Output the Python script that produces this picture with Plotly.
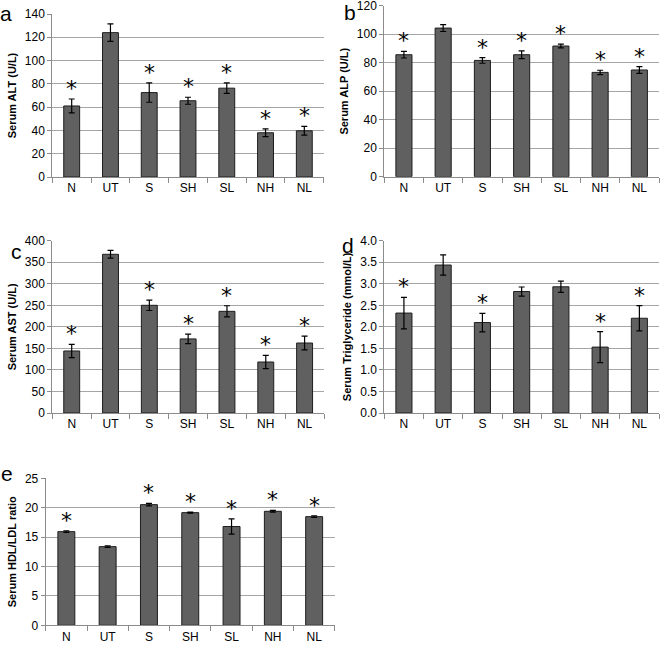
import plotly.graph_objects as go

W, H = 661, 647

groups = ["N", "UT", "S", "SH", "SL", "NH", "NL"]

alt_mean = [61, 124, 72.5, 65.5, 76.3, 38, 39.7]
alt_err = [6, 7.5, 8.3, 3, 4.5, 3.4, 3.7]
alt_star = ["*", "", "*", "*", "*", "*", "*"]

alp_mean = [85.6, 104.3, 81.6, 85.6, 91.7, 73.2, 74.9]
alp_err = [2.3, 2.4, 2, 2.7, 1.3, 1.5, 2.4]
alp_star = ["*", "", "*", "*", "*", "*", "*"]

ast_mean = [144, 368.4, 250, 172, 236, 118.4, 162.5]
ast_err = [15.5, 9, 12, 11, 13, 15.5, 16]
ast_star = ["*", "", "*", "*", "*", "*", "*"]

tg_mean = [2.32, 3.435, 2.10, 2.82, 2.93, 1.53, 2.20]
tg_err = [0.365, 0.235, 0.215, 0.105, 0.13, 0.36, 0.295]
tg_star = ["*", "", "*", "", "", "*", "*"]

hdl_mean = [15.93, 13.38, 20.52, 19.16, 16.8, 19.39, 18.48]
hdl_err = [0.15, 0.15, 0.2, 0.1, 1.3, 0.15, 0.15]
hdl_star = ["*", "", "*", "*", "*", "*", "*"]

font = "Liberation Sans"

# panel boxes in pixels: x0, x1, ytop, ybottom
panels = [
    dict(mean=alt_mean, err=alt_err, star=alt_star, title="Serum ALT (U/L)",
         rng=[0, 140], dt=20, fmt="", box=(52.3, 323.7, 14, 177),
         letter="a", lpos=(6, 13)),
    dict(mean=alp_mean, err=alp_err, star=alp_star, title="Serum ALP (U/L)",
         rng=[0, 120], dt=20, fmt="", box=(384.3, 659, 5.7, 176.7),
         letter="b", lpos=(350, 12)),
    dict(mean=ast_mean, err=ast_err, star=ast_star, title="Serum AST (U/L)",
         rng=[0, 400], dt=50, fmt="", box=(52.3, 324, 240.7, 413),
         letter="c", lpos=(16, 251)),
    dict(mean=tg_mean, err=tg_err, star=tg_star, title="Serum Triglyceride (mmol/L)",
         rng=[0, 4], dt=0.5, fmt=".1f", box=(384.3, 659, 240.7, 413),
         letter="d", lpos=(348, 245)),
    dict(mean=hdl_mean, err=hdl_err, star=hdl_star, title="Serum HDL/LDL ratio",
         rng=[0, 25], dt=5, fmt="", box=(45.7, 334.8, 478.3, 625.3),
         letter="e", lpos=(7, 473)),
]

fig = go.Figure()
annotations = []

for i, p in enumerate(panels, start=1):
    xa = "x" if i == 1 else f"x{i}"
    ya = "y" if i == 1 else f"y{i}"
    fig.add_trace(go.Bar(
        x=groups, y=p["mean"], xaxis=xa, yaxis=ya, width=0.41,
        marker=dict(color="#606060", line=dict(color="#1e1e1e", width=1)),
        error_y=dict(type="data", array=p["err"], color="black",
                     thickness=1.2, width=3),
        showlegend=False, hoverinfo="y",
    ))
    # significance stars just above the error bars
    for g, m, e, s in zip(groups, p["mean"], p["err"], p["star"]):
        if s:
            annotations.append(dict(
                text=s, x=g, y=m + e, xref=xa, yref=ya, showarrow=False,
                xanchor="center", yanchor="bottom", yshift=-4,
                font=dict(family="DejaVu Sans", size=22, color="black"),
            ))
    x0, x1, yt, yb = p["box"]
    key = "" if i == 1 else str(i)
    fig.update_layout({
        f"xaxis{key}": dict(
            domain=[x0 / W, x1 / W], anchor=ya, type="category",
            automargin=False, ticklabeloverflow="allow",
            showline=True, linecolor="#8c8c8c", linewidth=1,
            ticks="outside", tickson="boundaries", ticklen=5,
            tickcolor="#8c8c8c", showgrid=False,
            tickfont=dict(family=font, size=12, color="black"),
        ),
        f"yaxis{key}": dict(
            domain=[1 - yb / H, 1 - yt / H], anchor=xa, range=p["rng"],
            dtick=p["dt"], tickformat=p["fmt"],
            automargin=False, ticklabeloverflow="allow",
            showline=True, linecolor="#8c8c8c", linewidth=1,
            ticks="outside", ticklen=4, tickcolor="#8c8c8c",
            showgrid=True, gridcolor="#a6a6a6", gridwidth=1, zeroline=False,
            tickfont=dict(family=font, size=12, color="black"),
            title=dict(text="<b>" + p["title"] + "</b>", standoff=6,
                       font=dict(family=font, size=11, color="black")),
        ),
    })
    lx, ly = p["lpos"]
    annotations.append(dict(
        text=p["letter"], x=lx / W, y=1 - ly / H, xref="paper", yref="paper",
        showarrow=False, xanchor="center", yanchor="middle",
        font=dict(family=font, size=21, color="black"),
    ))

fig.update_layout(
    width=W, height=H, margin=dict(l=0, r=0, t=0, b=0),
    paper_bgcolor="white", plot_bgcolor="white",
    annotations=annotations, bargap=0.59,
)

# drop the page's default body margin so the figure sits at the window corner
fig.write_html("out.html", config={"displayModeBar": False},
               post_script="document.body.style.margin='0';")
